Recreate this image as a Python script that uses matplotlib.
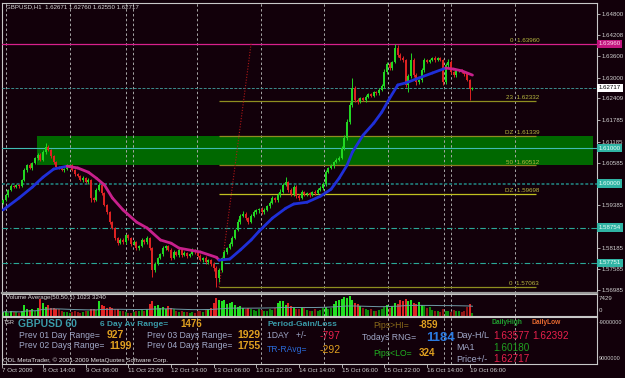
import matplotlib
matplotlib.use("Agg")
import matplotlib.pyplot as plt
import numpy as np
import pandas as pd
from matplotlib.patches import Rectangle
from matplotlib.collections import LineCollection
import matplotlib.transforms as mtrans

plt.rcParams['font.family'] = ['Liberation Sans', 'DejaVu Sans']

# ---------------- data ----------------
header_text = "GBPUSD,H1  1.62671 1.62760 1.62550 1.62717"

first_open = 1.5945
close = [
    1.5953, 1.5967, 1.5982, 1.5993, 1.5990, 1.5996, 1.5993, 1.6010, 1.6038, 1.6052,
    1.6044, 1.6058, 1.6072, 1.6081, 1.6067, 1.6089, 1.6103, 1.6095, 1.6078, 1.6061,
    1.6047, 1.6044, 1.6038, 1.6041, 1.6049, 1.6052, 1.6038, 1.6027, 1.6021, 1.6010,
    1.6016, 1.6004, 1.6010, 1.5959, 1.5953, 1.5982, 1.5996, 1.5973, 1.5939, 1.5919,
    1.5891, 1.5874, 1.5846, 1.5831, 1.5840, 1.5834, 1.5854, 1.5846, 1.5829, 1.5834,
    1.5817, 1.5823, 1.5840, 1.5834, 1.5846, 1.5817, 1.5755, 1.5772, 1.5789, 1.5800,
    1.5817, 1.5823, 1.5812, 1.5789, 1.5806, 1.5797, 1.5812, 1.5797, 1.5803, 1.5795,
    1.5800, 1.5812, 1.5806, 1.5795, 1.5783, 1.5789, 1.5777, 1.5783, 1.5772, 1.5761,
    1.5732, 1.5755, 1.5789, 1.5806, 1.5817, 1.5828, 1.5846, 1.5868, 1.5891, 1.5908,
    1.5914, 1.5902, 1.5891, 1.5908, 1.5919, 1.5925, 1.5928, 1.5919, 1.5925, 1.5936,
    1.5945, 1.5959, 1.5953, 1.5967, 1.5976, 1.5996, 1.6004, 1.5982, 1.5970, 1.5990,
    1.5965, 1.5959, 1.5976, 1.5970, 1.5973, 1.5967, 1.5976, 1.5973, 1.5982, 1.5987,
    1.5998, 1.6032, 1.6044, 1.6049, 1.6061, 1.6067, 1.6072, 1.6100, 1.6128, 1.6174,
    1.6222, 1.6270, 1.6236, 1.6231, 1.6242, 1.6236, 1.6245, 1.6253, 1.6248, 1.6259,
    1.6256, 1.6265, 1.6276, 1.6315, 1.6338, 1.6327, 1.6344, 1.6384, 1.6364, 1.6355,
    1.6350, 1.6279, 1.6304, 1.6350, 1.6307, 1.6287, 1.6293, 1.6321, 1.6350, 1.6344,
    1.6350, 1.6355, 1.6350, 1.6355, 1.6350, 1.6287, 1.6335, 1.6344, 1.6315, 1.6307,
    1.6321, 1.6321, 1.6315, 1.6310, 1.6293, 1.6267, 1.62717]

up_wick_pips = [
    3, 4, 2, 5, 3, 4, 2, 3, 6, 4,
    5, 3, 4, 6, 4, 5, 11, 6, 3, 4,
    3, 2, 4, 3, 5, 4, 3, 2, 4, 3,
    4, 3, 5, 2, 3, 4, 6, 5, 2, 3,
    2, 3, 4, 3, 5, 6, 4, 3, 2, 5,
    3, 4, 5, 3, 4, 2, 3, 5, 4, 3,
    5, 4, 3, 4, 5, 3, 4, 3, 5, 4,
    3, 4, 3, 2, 4, 3, 5, 3, 4, 6,
    5, 6, 4, 5, 3, 6, 5, 4, 8, 6,
    9, 5, 4, 6, 5, 3, 4, 5, 6, 4,
    5, 6, 4, 5, 8, 6, 14, 4, 5, 6,
    5, 4, 6, 3, 4, 3, 4, 5, 4, 6,
    5, 6, 4, 5, 3, 4, 6, 5, 8, 10,
    8, 29, 6, 5, 4, 3, 5, 4, 3, 4,
    3, 5, 6, 8, 6, 5, 4, 12, 8, 5,
    6, 4, 5, 20, 6, 5, 4, 6, 5, 3,
    4, 3, 5, 4, 3, 4, 6, 8, 5, 4,
    3, 4, 3, 2, 4, 3, 0.9]

down_wick_pips = [
    4, 3, 5, 2, 4, 3, 5, 4, 3, 5,
    4, 6, 3, 5, 4, 3, 5, 4, 6, 5,
    3, 4, 3, 5, 2, 3, 4, 5, 3, 4,
    5, 3, 4, 12, 6, 3, 4, 5, 3, 4,
    5, 3, 6, 4, 3, 5, 4, 6, 5, 3,
    6, 4, 3, 5, 4, 4, 20, 5, 4, 3,
    4, 5, 3, 6, 4, 3, 5, 4, 3, 5,
    4, 3, 5, 4, 3, 6, 5, 4, 6, 8,
    26, 10, 5, 4, 6, 3, 5, 4, 3, 5,
    4, 6, 5, 3, 4, 5, 9, 4, 5, 3,
    4, 3, 6, 4, 5, 3, 4, 5, 6, 4,
    6, 5, 3, 4, 5, 4, 3, 5, 4, 3,
    4, 5, 3, 4, 5, 3, 4, 3, 5, 4,
    5, 4, 6, 5, 4, 3, 5, 4, 3, 4,
    5, 4, 3, 5, 4, 6, 5, 4, 5, 4,
    5, 6, 20, 5, 6, 7, 4, 5, 4, 3,
    4, 3, 5, 4, 3, 8, 6, 5, 4, 6,
    5, 4, 3, 5, 4, 31, 1.2]

volume = ([1500, 1800, 1200, 2000, 1600, 1400, 1300, 1700]
          + [4000, 2500]
          + [2200, 2500, 1800, 3000]
          + [6500, 4800]
          + [3500, 4000, 3000, 3200, 2800, 2500]
          + [1800, 1500, 1600, 1200, 1400, 1700, 1500, 1300, 1600]
          + [2000, 1800, 2800, 2500, 2200]
          + [5500, 4200, 3800, 3000, 3500]
          + [3000, 2500, 2800, 2000, 1800, 1500, 1200, 1000]
          + [1500, 2000, 1800, 2200, 1700, 2500]
          + [4500, 5500, 3800, 4200, 3000, 3500, 2800, 3800, 3200, 2500]
          + [1800, 1500, 1700, 1400, 1600, 1300, 1500, 1200, 1800, 2000, 1600, 2200, 2500, 3000]
          + [5000, 6800, 6200, 5500, 6000, 4500, 4800, 5200, 4000, 3500, 3800]
          + [3000, 2500, 3200, 2800, 2200, 2000, 2600, 2400, 1800, 2000, 2500, 2200, 3000]
          + [5000, 5800, 5500, 4200, 4800, 3800, 3500]
          + [2500, 2800, 3500, 3000, 2200, 2000, 1800, 2500, 2000, 2200, 3000, 3500, 2800, 3200]
          + [4500, 5500, 6000, 6500, 7000, 6800, 7429, 6200, 5000, 4500, 3800, 3000]
          + [2500, 2200, 2800, 2000, 1800, 2200, 2800, 3500, 4000, 3200, 3800, 5000, 4500]
          + [6000, 5500, 6500, 5800, 6200, 5000, 4500, 5200, 4200, 3800, 3000, 3500]
          + [2200, 1800, 2000, 1500, 2500, 2000, 1800, 1600, 2200, 2000, 1800, 1500, 2000]
          + [3500, 4500, 1200])

ma_bar = [0, 6, 11, 15, 19, 24, 28, 32, 35, 38, 41, 45, 50, 54, 59, 63, 66, 74,
          80, 81, 85, 89, 93, 96, 101, 106, 109, 114, 119, 123, 126, 129, 131, 135,
          139, 142, 145, 148, 151, 156, 161, 166, 169, 172, 176]
ma_value = [1.5925, 1.5959, 1.5990, 1.6018, 1.6041, 1.6049, 1.6044, 1.6032, 1.6015,
            1.5996, 1.5959, 1.5925, 1.5891, 1.5874, 1.5840, 1.5831, 1.5817, 1.5806,
            1.5791, 1.5783, 1.5786, 1.5812, 1.5840, 1.5865, 1.5902, 1.5930, 1.5942,
            1.5947, 1.5964, 1.5984, 1.6015, 1.6052, 1.6089, 1.6137, 1.6171, 1.6202,
            1.6242, 1.6279, 1.6285, 1.6299, 1.6313, 1.6327, 1.6324, 1.6319, 1.6307]

price_ticks = [1.64800, 1.64208, 1.63600, 1.63000, 1.62409, 1.61785, 1.61185,
               1.60585, 1.59385, 1.58185, 1.57585, 1.56985]

time_label_bar = [-0.4, 15, 31, 47, 63, 79, 95, 111, 127, 143, 159, 175]
time_labels = ["7 Oct 2009", "8 Oct 14:00", "9 Oct 06:00", "11 Oct 22:00",
               "12 Oct 14:00", "13 Oct 06:00", "13 Oct 22:00", "14 Oct 14:00",
               "15 Oct 06:00", "15 Oct 22:00", "16 Oct 14:00", "19 Oct 06:00"]

day_sep_bar = [1.1, 25.1, 46.1, 48.7, 72.7, 96.7, 120.4, 144.4, 165.4, 168.0, 192.0]

zone_low, zone_high = 1.60512, 1.61339
zone_start_bar, zone_end_bar = 12.8, 221.2

fib_values = [1.63960, 1.62332, 1.61339, 1.60512, 1.59698, 1.57063]
fib_names = ["0", "23", "DZ", "50", "DZ", "0"]
fib_start_bar, fib_end_bar = 81, 200

trend_bar = [81, 93]
trend_price = [1.57063, 1.63960]

level_values = [1.63960, 1.62717, 1.61000, 1.60000, 1.58754, 1.57751]
level_labels = ["1.63960", "1.62717", "1.61000", "1.60000", "1.58754", "1.57751"]

# ---------------- style ----------------
W, H = 625, 378
BG = '#12000a'
FRAME = '#c8c8c8'
BULL = '#22d622'
BEAR = '#dc2222'
AXTXT = '#d0d0d0'

n = len(close)
bars = np.arange(n)
opens = np.array([first_open] + close[:-1])
closes = np.array(close)
highs = np.maximum(opens, closes) + np.array(up_wick_pips) * 0.0001
lows = np.minimum(opens, closes) - np.array(down_wick_pips) * 0.0001
up = closes >= opens

fig = plt.figure(figsize=(W / 100, H / 100), dpi=100, facecolor=BG)


def fx(x):
    return x / W


def fy(y):
    return 1 - y / H


XLIM = (-0.4, 222.7)

# ---- main price panel ----
ax = fig.add_axes([fx(2), fy(293), 595 / W, 290 / H])
ax.set_facecolor(BG)
ax.set_xlim(*XLIM)
ax.set_ylim(1.56899, 1.65112)
for s in ax.spines.values():
    s.set_color(FRAME)
    s.set_linewidth(0.8)
ax.spines['bottom'].set_color('#9a9a9a')
ax.spines['bottom'].set_linewidth(1.6)
ax.set_xticks([])
ax.yaxis.tick_right()
ax.set_yticks(price_ticks)
ax.set_yticklabels([f"{v:.5f}" for v in price_ticks])
ax.tick_params(axis='y', colors=FRAME, labelcolor=AXTXT, labelsize=4.4,
               length=2, width=0.6, pad=1.5)

# zone rectangle
ax.add_patch(Rectangle((zone_start_bar, zone_low), zone_end_bar - zone_start_bar,
                       zone_high - zone_low, facecolor='#006800', edgecolor='none', zorder=1))

# day separators
for b in day_sep_bar:
    ax.axvline(b, color='#a8a8a8', lw=0.7, ls=(0, (2.5, 2.5)), zorder=2)

# horizontal level lines
level_styles = [('#d8208c', '-', 0.9), ('#3c8c8c', (0, (3, 1.5)), 0.7),
                ('#40bcb4', '-', 0.8), ('#1e6c6c', (0, (1.5, 1)), 1.4),
                ('#2aa898', (0, (5, 2, 1, 2)), 0.8), ('#2aa898', (0, (5, 2, 1, 2)), 0.8)]
for v, (c, ls, lw) in zip(level_values, level_styles):
    ax.axhline(v, color=c, ls=ls, lw=lw, zorder=3)

# fib levels
fib_colors = ['#8e8e20', '#8e8e20', '#8e8e20', '#8e7a20', '#c0c020', '#8e8e20']
for v, name, c in zip(fib_values, fib_names, fib_colors):
    if not (name == "0" and v > 1.63):
        ax.hlines(v, fib_start_bar, fib_end_bar, color=c, lw=0.9, zorder=3)
    ax.text(fib_end_bar + 1, v + 0.00025, f"{name}  {v:.5f}", color='#b8b840',
            fontsize=4.5, ha='right', va='bottom', zorder=6)

# trend dotted line
ax.plot(trend_bar, trend_price, color='#b01818', lw=0.8, ls=(0, (1, 1.5)), zorder=4)

# candles
ccol = np.where(up, BULL, BEAR)
ax.vlines(bars, lows, highs, colors=ccol, lw=0.7, zorder=5)
body_h = np.maximum(np.abs(closes - opens), 0.00009)
ax.bar(bars, body_h, bottom=np.minimum(opens, closes), width=0.78, color=ccol,
       linewidth=0, zorder=5)

# MA line, coloured by slope
pts = np.column_stack([ma_bar, ma_value])
segs = np.stack([pts[:-1], pts[1:]], axis=1)
seg_cols = ['#1f2fd8' if ma_value[i + 1] >= ma_value[i] else '#c8208c'
            for i in range(len(ma_value) - 1)]
ax.add_collection(LineCollection(segs, colors=seg_cols, linewidths=2.0, zorder=6,
                                 capstyle='round'))

# right price label boxes
trans = mtrans.blended_transform_factory(ax.transAxes, ax.transData)
box_styles = [('#c2157e', '#ffd8ee'), ('#ffffff', '#000000'), ('#30b4a4', '#eafff8'),
              ('#30b4a4', '#eafff8'), ('#30b4a4', '#eafff8'), ('#30b4a4', '#eafff8')]
for v, lab, (bc, tc) in zip(level_values, level_labels, box_styles):
    ax.text(1.003, v, lab, transform=trans, color=tc, fontsize=4.4, ha='left',
            va='center', clip_on=False, zorder=10,
            bbox=dict(boxstyle='square,pad=0.25', fc=bc, ec='none'))

# header
fig.text(fx(6), fy(7), header_text, color='#d8d8d8', fontsize=4.4, ha='left', va='center')

# ---- volume panel ----
axv = fig.add_axes([fx(2), fy(316), 595 / W, 22 / H])
axv.set_facecolor(BG)
axv.set_xlim(*XLIM)
axv.set_ylim(0, 8300)
for s in axv.spines.values():
    s.set_color(FRAME)
    s.set_linewidth(0.8)
axv.set_xticks([])
axv.set_yticks([])
vol = np.array(volume, dtype=float)
vavg = pd.Series(vol).rolling(50, min_periods=1).mean().values
vcols = []
for i in range(n):
    above = vol[i] >= vavg[i]
    if up[i]:
        vcols.append('#22e022' if above else '#0c8a0c')
    else:
        vcols.append('#e02424' if above else '#8e1414')
for b in day_sep_bar:
    axv.axvline(b, color='#a8a8a8', lw=0.7, ls=(0, (2.5, 2.5)), zorder=1)
axv.bar(bars, vol, width=0.78, color=vcols, linewidth=0, zorder=2)
axv.plot(bars, vavg, color='#6f9aa6', lw=0.7, zorder=3)
axv.text(0.006, 0.86, "Volume Average(50,50,1) 1023 3240", transform=axv.transAxes,
         color='#d8d8d8', fontsize=4.4, ha='left', va='center', zorder=5)
fig.text(fx(599), fy(298), "7429", color=AXTXT, fontsize=4.4, ha='left', va='center')
fig.text(fx(599), fy(310), "0", color=AXTXT, fontsize=4.4, ha='left', va='center')

# ---- indicator text panel ----
axi = fig.add_axes([fx(2), fy(364), 595 / W, 47 / H])
axi.set_facecolor(BG)
axi.set_xlim(*XLIM)
axi.set_ylim(0, 1)
for s in axi.spines.values():
    s.set_color(FRAME)
    s.set_linewidth(0.8)
axi.set_xticks([])
axi.set_yticks([])
for b in day_sep_bar:
    axi.axvline(b, color='#a8a8a8', lw=0.7, ls=(0, (2.5, 2.5)), zorder=1)
fig.text(fx(599), fy(322), "-9000000", color=AXTXT, fontsize=3.9, ha='left', va='center')
fig.text(fx(599), fy(359), "9000000", color=AXTXT, fontsize=3.9, ha='left', va='center')

GOLD = '#e0a020'
TEAL = '#3a9aa8'
SILV = '#a0a8c8'
PINK = '#e8204c'
panel_texts = [
    ("TSR", 4, 322, '#e0e0e0', 4.0, 'normal'),
    ("GBPUSD 60", 18, 324, TEAL, 7.5, 'bold'),
    ("6 Day Av Range=", 100, 324, TEAL, 6.0, 'bold'),
    ("1476", 180, 324, GOLD, 7.0, 'bold'),
    ("Prev 01 Day Range=", 19, 335, SILV, 6.2, 'normal'),
    ("927", 107, 335, GOLD, 7.5, 'bold'),
    ("Prev 02 Days Range=", 19, 345, SILV, 6.2, 'normal'),
    ("1199", 109, 346, GOLD, 7.5, 'bold'),
    ("Prev 03 Days Range=", 147, 335, SILV, 6.2, 'normal'),
    ("1929", 237, 335, GOLD, 7.5, 'bold'),
    ("Prev 04 Days Range=", 147, 345, SILV, 6.2, 'normal'),
    ("1755", 237, 346, GOLD, 7.5, 'bold'),
    ("Period-Gain/Loss", 267, 324, TEAL, 6.0, 'bold'),
    ("1DAY   +/-", 267, 335, SILV, 6.2, 'normal'),
    ("-797", 320, 336, PINK, 7.5, 'normal'),
    ("TR-RAvg=", 267, 349, '#2a6ad8', 6.2, 'normal'),
    ("-292", 320, 350, GOLD, 7.5, 'normal'),
    ("Pips>HI=", 373, 325, '#8a6a1a', 6.2, 'normal'),
    ("-859", 419, 325, GOLD, 7.0, 'bold'),
    ("Todays RNG=", 362, 337, SILV, 6.2, 'normal'),
    ("1184", 426, 338, '#2a7ae0', 9.5, 'bold'),
    ("Pips<LO=", 373, 353, '#20b020', 6.2, 'normal'),
    ("324", 419, 353, GOLD, 7.0, 'bold'),
    ("DailyHigh", 492, 323, '#20a030', 4.8, 'bold'),
    ("DailyLow", 532, 323, '#e86a30', 4.8, 'bold'),
    ("Day-H/L", 456, 336, SILV, 6.5, 'normal'),
    ("1.63577", 493, 336, PINK, 7.2, 'normal'),
    ("1.62392", 532, 336, PINK, 7.2, 'normal'),
    ("MA1", 456, 348, SILV, 6.5, 'normal'),
    ("1.60180", 493, 348, '#20a020', 7.2, 'normal'),
    ("Price+/-", 456, 359, SILV, 6.5, 'normal'),
    ("1.62717", 493, 359, PINK, 7.2, 'normal'),
    ("ODL MetaTrader, \u00a9 2001-2009 MetaQuotes Software Corp.", 3, 360, '#e0e0e0', 4.5, 'normal'),
]
for s, x, y, c, size, wt in panel_texts:
    fig.text(fx(x), fy(y), s, color=c, fontsize=size, fontweight=wt, ha='left', va='center',
             zorder=5)

# time axis labels
for b, lab in zip(time_label_bar, time_labels):
    xpix = 2 + (b - XLIM[0]) / (XLIM[1] - XLIM[0]) * 595
    fig.text(fx(xpix), fy(370), lab, color=AXTXT, fontsize=4.5, ha='left', va='center')
    fig.add_artist(plt.Line2D([fx(xpix), fx(xpix)], [fy(364), fy(367)], color=FRAME, lw=0.6))

fig.savefig("out.png", dpi=100, facecolor=BG)
